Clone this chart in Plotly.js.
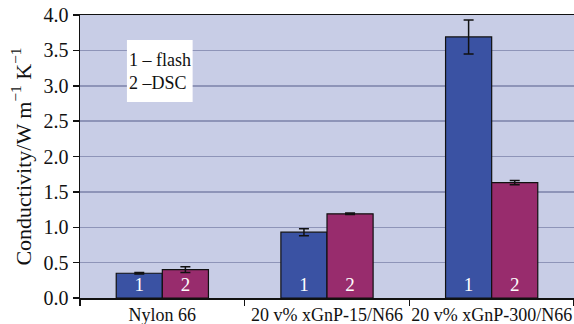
<!DOCTYPE html>
<html><head><meta charset="utf-8">
<script src="https://cdn.plot.ly/plotly-3.0.1.min.js"></script>
<style>body{margin:0;padding:0;background:#fff}#chart{width:574px;height:324px}</style>
</head><body><div id="chart"></div>
<script>
const categories = ["Nylon 66", "20 v% xGnP-15/N66", "20 v% xGnP-300/N66"];
const flashValues = [0.35, 0.93, 3.69];
const flashErrors = [0.01, 0.05, 0.24];
const dscValues = [0.40, 1.19, 1.63];
const dscErrors = [0.04, 0.01, 0.03];
const yTicks = [0, 0.5, 1, 1.5, 2, 2.5, 3, 3.5, 4];
const yTickLabels = ["0.0", "0.5", "1.0", "1.5", "2.0", "2.5", "3.0", "3.5", "4.0"];

const serif = "Liberation Serif";
const common = {
  type: "bar", x: categories,
  textposition: "inside", insidetextanchor: "start", textangle: 0, constraintext: "none",
  textfont: {family: serif, size: 19, color: "#ffffff"},
  hoverinfo: "none", cliponaxis: false
};
const traces = [
  Object.assign({}, common, {
    name: "1", y: flashValues, text: flashValues.map(() => "1"),
    marker: {color: "#3a52a3", line: {color: "#111", width: 1.2}},
    error_y: {type: "data", array: flashErrors, visible: true, color: "#111", thickness: 1.5, width: 5}
  }),
  Object.assign({}, common, {
    name: "2", y: dscValues, text: dscValues.map(() => "2"),
    marker: {color: "#982c6d", line: {color: "#111", width: 1.2}},
    error_y: {type: "data", array: dscErrors, visible: true, color: "#111", thickness: 1.5, width: 5}
  })
];
const layout = {
  width: 574, height: 324,
  margin: {l: 80, r: 0, t: 15, b: 26},
  paper_bgcolor: "#ffffff", plot_bgcolor: "#c8cde6",
  barmode: "group", bargap: 0.44, bargroupgap: 0,
  showlegend: false,
  font: {family: serif, color: "#111"},
  xaxis: {
    type: "category", range: [-0.5, 2.5],
    showline: true, linecolor: "#111", linewidth: 1.5, mirror: true,
    ticks: "outside", tickson: "boundaries", ticklen: 6, tickcolor: "#111", tickwidth: 1.5,
    tickangle: 0,
    tickfont: {family: serif, size: 18, color: "#111"},
    showgrid: false, fixedrange: true
  },
  yaxis: {
    range: [0, 4], tickvals: yTicks, ticktext: yTickLabels,
    showline: true, linecolor: "#111", linewidth: 1.5,
    ticks: "outside", ticklen: 6, tickcolor: "#111", tickwidth: 1.5,
    tickfont: {family: serif, size: 20, color: "#111"},
    showgrid: true, gridcolor: "#8e94b8", gridwidth: 1.5, zeroline: false,
    title: {text: "Conductivity/W m<sup>\u22121</sup> K<sup>\u22121</sup>", font: {family: serif, size: 22, color: "#111"}, standoff: 6}
  },
  shapes: [{
    type: "rect", xref: "paper", yref: "paper", x0: 0.095, x1: 0.228, y0: 0.693, y1: 0.912,
    fillcolor: "#ffffff", line: {width: 0}, layer: "above"
  }],
  annotations: [{
    xref: "paper", yref: "paper", x: 0.1615, y: 0.802, xanchor: "center", yanchor: "middle",
    text: "1 \u2013 flash<br>2 \u2013DSC", align: "left", showarrow: false,
    font: {family: serif, size: 18, color: "#111"}
  }]
};
Plotly.newPlot("chart", traces, layout, {staticPlot: true, displayModeBar: false});
</script></body></html>
